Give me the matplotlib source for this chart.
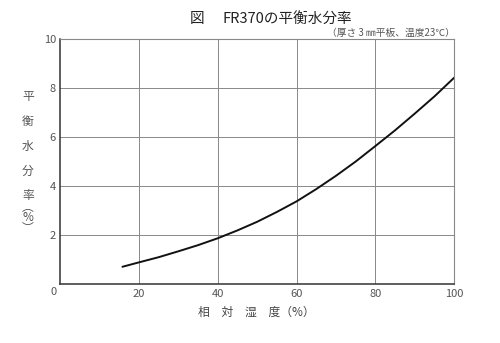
import numpy as np
import matplotlib.pyplot as plt

plt.rcParams['font.family'] = ['Noto Sans CJK JP', 'DejaVu Sans']

# curve
humidity = [15.8, 20, 25, 30, 35, 40, 45, 50, 55, 60, 65, 70, 75, 80, 85, 90, 95, 100]
moisture = [0.72, 0.90, 1.11, 1.35, 1.60, 1.88, 2.20, 2.55, 2.95, 3.38, 3.88, 4.42,
            5.00, 5.63, 6.27, 6.95, 7.65, 8.41]

x_ticks = [0, 20, 40, 60, 80, 100]
y_ticks = [0, 2, 4, 6, 8, 10]

fig = plt.figure(figsize=(5, 3.43), dpi=100)
ax = fig.add_axes([0.1204, 0.1706, 0.788, 0.717])

ax.plot(humidity, moisture, color='#111111', linewidth=1.4, solid_capstyle='round',
        solid_joinstyle='round')
ax.set_xlim(0, 100)
ax.set_ylim(0, 10)
ax.set_xticks(x_ticks[1:])
ax.set_yticks(y_ticks[1:])
ax.grid(True, color='#888888', linewidth=0.7)
ax.tick_params(length=0, labelsize=8, labelcolor='#555555', pad=3)
ax.set_xticklabels([str(v) for v in x_ticks[1:]])
ax.set_yticklabels([str(v) for v in y_ticks[1:]])
for s in ['top', 'right']:
    ax.spines[s].set_color('#888888')
    ax.spines[s].set_linewidth(0.8)
for s in ['left', 'bottom']:
    ax.spines[s].set_color('#333333')
    ax.spines[s].set_linewidth(1.1)

# shared zero label at the corner
ax.text(-0.8, -0.12, '0', transform=ax.transData, ha='right', va='top',
        fontsize=8, color='#555555')

fig.text(0.38, 0.945, '図', fontsize=10.5, color='#222222', ha='left', va='center')
fig.text(0.445, 0.945, 'FR370の平衡水分率', fontsize=10.5, color='#222222',
         ha='left', va='center')
fig.text(0.91, 0.905, '（厚さ 3 ㎜平板、温度23℃）', fontsize=7, color='#555555',
         ha='right', va='center')

ylabel_chars = ['平', '衡', '水', '分', '率']
ylabel_pos = [0.718, 0.646, 0.574, 0.501, 0.431]
for ch, yp in zip(ylabel_chars, ylabel_pos):
    fig.text(0.056, yp, ch, fontsize=8.5, color='#555555', ha='center', va='center')
# vertical "(%)" as one block
fig.text(0.056, 0.365, '︵\n%\n︶', fontsize=8.5, color='#555555', ha='center',
         va='center', linespacing=0.75, multialignment='center')

fig.text(0.513, 0.09, '相　対　湿　度（%）', fontsize=8.5, color='#444444',
         ha='center', va='center')

fig.savefig('out.png', dpi=100, facecolor='white')
